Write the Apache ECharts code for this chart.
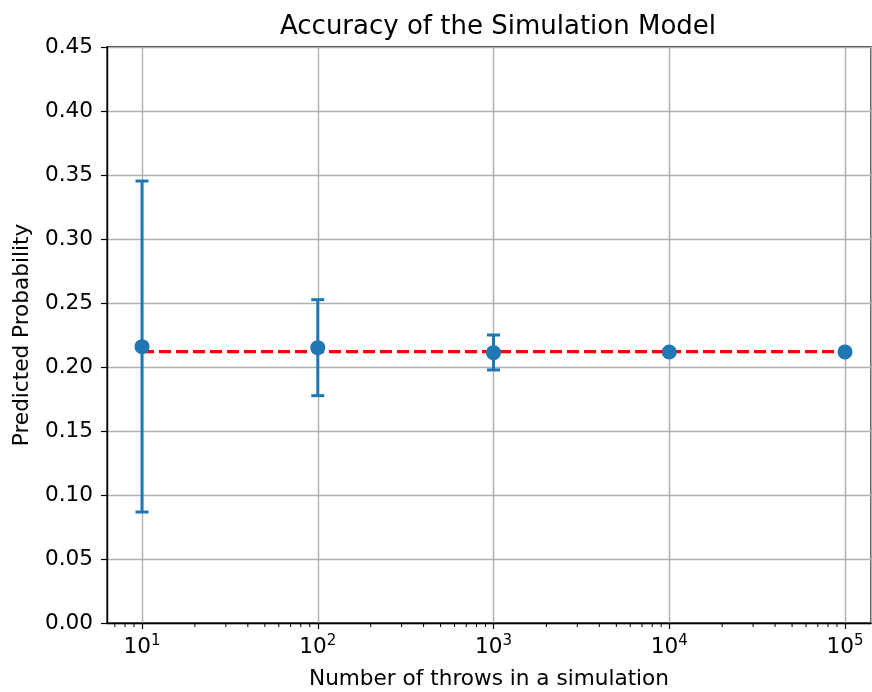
<!DOCTYPE html>
<html>
<head>
	<meta charset="utf-8">
	<title>Accuracy of the Simulation Model</title>
	<style>
		body { margin: 0; padding: 0; background: #fff; }
		#main { width: 872px; height: 692px; }
	</style>
</head>
<body>
	<div id="main"></div>
	<script src="https://cdn.jsdelivr.net/npm/echarts@6/dist/echarts.min.js"></script>
	<script type="text/javascript">
		// data
		var throws = [10, 100, 1000, 10000, 100000];
		var means = [0.2159, 0.2151, 0.2112, 0.2117, 0.2118];
		var lower = [0.0867, 0.1776, 0.1977, 0.2097, 0.2113];
		var upper = [0.3453, 0.2526, 0.2250, 0.2137, 0.2123];
		var expected = 0.2120;   // red dashed reference

		var blue = '#1f77b4';
		var font = 'DejaVu Sans';

		// minor log ticks 2..9 per decade
		var minorTicks = [];
		for (var e = 0; e <= 5; e++) {
			for (var m = 2; m <= 9; m++) {
				var v = m * Math.pow(10, e);
				if (v > 6.32 && v < 140600) minorTicks.push([v]);
			}
		}

		var pts = [], bars = [];
		for (var i = 0; i < throws.length; i++) {
			pts.push([throws[i], means[i]]);
			bars.push([throws[i], lower[i], upper[i]]);
		}

		var myChart = echarts.init(document.getElementById('main'));

		myChart.setOption({
			animation: false,
			backgroundColor: '#fff',
			title: {
				text: 'Accuracy of the Simulation Model',
				left: 493, top: 9, textAlign: 'center',
				textStyle: { fontFamily: font, fontSize: 26, fontWeight: 'normal', color: '#000' }
			},
			grid: {
				left: 107, right: 1, top: 47, bottom: 69,
				outerBoundsMode: 'none',
				show: true, borderColor: '#000', borderWidth: 1.3
			},
			xAxis: {
				type: 'log',
				min: 6.32, max: 140600,
				name: 'Number of throws in a simulation',
				nameLocation: 'middle', nameGap: 45,
				nameTextStyle: { fontFamily: font, fontSize: 21.6, color: '#000' },
				axisLine: { lineStyle: { color: '#000', width: 1.3 } },
				axisTick: { show: true, length: 6, lineStyle: { color: '#000', width: 1.2 } },
				splitLine: { show: true, lineStyle: { color: '#b0b0b0', width: 1.4 } },
				axisLabel: {
					margin: 11, showMinLabel: false, showMaxLabel: false,
					fontFamily: font, fontSize: 21.6, color: '#000',
					formatter: function (v) {
						return '{b|10}{s|' + Math.round(Math.log10(v)) + '}';
					},
					rich: {
						b: { fontFamily: font, fontSize: 21.6, color: '#000' },
						s: { fontFamily: font, fontSize: 15, color: '#000', padding: [0, 0, 11, 0] }
					}
				}
			},
			yAxis: {
				type: 'value',
				min: 0, max: 0.45, interval: 0.05,
				name: 'Predicted Probability',
				nameLocation: 'middle', nameGap: 74,
				nameTextStyle: { fontFamily: font, fontSize: 21.6, color: '#000' },
				axisLine: { show: true, lineStyle: { color: '#000', width: 1.3 } },
				axisTick: { show: true, length: 6, lineStyle: { color: '#000', width: 1.2 } },
				splitLine: { show: true, lineStyle: { color: '#b0b0b0', width: 1.4 } },
				axisLabel: {
					margin: 14, fontFamily: font, fontSize: 21.6, color: '#000',
					formatter: function (v) { return v.toFixed(2); }
				}
			},
			series: [
				{
					// minor ticks on the log axis
					type: 'custom',
					silent: true,
					clip: false,
					data: minorTicks,
					renderItem: function (params, api) {
						var p = api.coord([api.value(0), 0]);
						return {
							type: 'line',
							shape: { x1: p[0], y1: p[1], x2: p[0], y2: p[1] + 4 },
							style: { stroke: '#000', lineWidth: 1 }
						};
					},
					z: 1
				},
				{
					type: 'line',
					data: [[throws[0], expected], [throws[throws.length - 1], expected]],
					symbol: 'none',
					lineStyle: { color: '#ff0000', width: 3.2, type: [12, 5] },
					z: 2
				},
				{
					// error bars
					type: 'custom',
					data: bars,
					renderItem: function (params, api) {
						var lo = api.coord([api.value(0), api.value(1)]);
						var hi = api.coord([api.value(0), api.value(2)]);
						var w = 6.5;
						var st = { stroke: blue, lineWidth: 3 };
						return {
							type: 'group',
							children: [
								{ type: 'line', shape: { x1: lo[0], y1: lo[1], x2: hi[0], y2: hi[1] }, style: st },
								{ type: 'line', shape: { x1: lo[0] - w, y1: lo[1], x2: lo[0] + w, y2: lo[1] }, style: st },
								{ type: 'line', shape: { x1: hi[0] - w, y1: hi[1], x2: hi[0] + w, y2: hi[1] }, style: st }
							]
						};
					},
					z: 3
				},
				{
					type: 'scatter',
					data: pts,
					symbol: 'circle',
					symbolSize: 15,
					itemStyle: { color: blue, opacity: 1 },
					z: 4
				}
			]
		});
	</script>
</body>
</html>
